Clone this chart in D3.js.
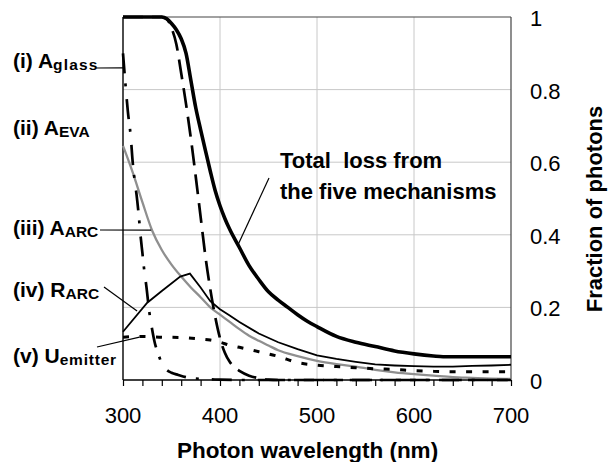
<!DOCTYPE html>
<html>
<head>
<meta charset="utf-8">
<script src="https://cdn.jsdelivr.net/npm/d3@7"></script>
<style>
  body { margin: 0; background: #fff; }
  text { font-family: "Liberation Sans", Arial, sans-serif; }
</style>
</head>
<body>
<svg width="611" height="462"></svg>
<script>
const totalLoss = [[300,1],[340,1],[345,0.995],[350,0.982],[355,0.965],[360,0.94],[365,0.9],[370,0.825],[375,0.75],[380,0.69],[385,0.632],[390,0.575],[395,0.522],[400,0.48],[405,0.445],[410,0.415],[420,0.365],[430,0.315],[440,0.277],[450,0.243],[460,0.22],[470,0.2],[480,0.18],[490,0.162],[500,0.147],[520,0.12],[540,0.104],[560,0.092],[580,0.08],[600,0.072],[620,0.066],[630,0.064],[700,0.064]]
const aGlass = [[300,0.9],[303,0.8],[305,0.74],[308,0.67],[310,0.6],[312,0.55],[314,0.51],[316,0.46],[318,0.4],[320,0.35],[322,0.3],[324,0.26],[327,0.19],[330,0.14],[333,0.1],[336,0.075],[340,0.045],[345,0.028],[350,0.02],[357,0.014],[365,0.008],[380,0.003],[400,0.001],[420,0],[700,0]]
const aEVA = [[300,1],[340,1],[345,0.995],[350,0.97],[355,0.925],[360,0.845],[365,0.76],[370,0.665],[375,0.56],[380,0.45],[385,0.34],[390,0.25],[395,0.175],[400,0.115],[405,0.075],[410,0.05],[415,0.035],[420,0.025],[430,0.012],[440,0.005],[450,0.001],[460,0],[700,0]]
const aARC = [[300,0.645],[310,0.572],[320,0.49],[330,0.412],[340,0.358],[350,0.318],[360,0.285],[370,0.255],[380,0.228],[390,0.2],[400,0.18],[410,0.16],[420,0.14],[430,0.122],[440,0.108],[450,0.095],[460,0.082],[480,0.066],[500,0.053],[520,0.044],[540,0.037],[560,0.028],[580,0.021],[600,0.016],[620,0.012],[640,0.008],[660,0.006],[680,0.004],[700,0.003]]
const rARC = [[300,0.133],[325,0.213],[340,0.245],[359,0.285],[369,0.293],[380,0.255],[390,0.217],[400,0.195],[410,0.178],[420,0.16],[440,0.128],[460,0.104],[480,0.085],[500,0.068],[520,0.058],[540,0.05],[560,0.043],[580,0.04],[600,0.038],[620,0.037],[640,0.037],[660,0.039],[680,0.04],[700,0.042]]
const uEmitter = [[300,0.118],[320,0.12],[340,0.118],[360,0.117],[380,0.113],[390,0.11],[400,0.104],[410,0.096],[420,0.09],[440,0.078],[460,0.065],[480,0.048],[500,0.041],[520,0.037],[540,0.034],[560,0.031],[580,0.029],[600,0.026],[620,0.024],[640,0.023],[700,0.023]]

const xTicks = [300, 400, 500, 600, 700]
const yTicks = [0, 0.2, 0.4, 0.6, 0.8, 1]

const plotL = 123, plotR = 511, plotT = 17, plotB = 380

const svg = d3.select('svg')

const x = d3.scaleLinear().domain([300, 700]).range([plotL, plotR])
const y = d3.scaleLinear().domain([0, 1]).range([plotB, plotT])

// grid
svg.append('g').selectAll('line')
    .data(xTicks.slice(1, -1))
    .enter().append('line')
    .attr('x1', d => x(d)).attr('x2', d => x(d))
    .attr('y1', plotT).attr('y2', plotB)
    .attr('stroke', '#c8c8c8').attr('stroke-width', 1)
svg.append('g').selectAll('line')
    .data(yTicks.slice(1, -1))
    .enter().append('line')
    .attr('x1', plotL).attr('x2', plotR)
    .attr('y1', d => y(d)).attr('y2', d => y(d))
    .attr('stroke', '#c8c8c8').attr('stroke-width', 1)

// frame
svg.append('line').attr('x1', plotL).attr('x2', plotR).attr('y1', plotT).attr('y2', plotT)
    .attr('stroke', '#444').attr('stroke-width', 1.2)
svg.append('line').attr('x1', plotR).attr('x2', plotR).attr('y1', plotT).attr('y2', plotB)
    .attr('stroke', '#444').attr('stroke-width', 1.2)

// bottom axis
const xAxis = d3.axisBottom(x)
    .ticks(20)
    .tickSize(6)
    .tickFormat('')
svg.append('g')
    .attr('transform', `translate(0,${plotB})`)
    .call(xAxis)
    .call(g => g.select('.domain').attr('stroke-width', 1.5).attr('d', `M${plotL},0H${plotR}`))
    .call(g => g.selectAll('.tick line').attr('stroke-width', 1.2))

svg.append('line').attr('x1', plotL).attr('x2', plotL).attr('y1', plotT).attr('y2', plotB)
    .attr('stroke', '#000').attr('stroke-width', 1.4)

svg.append('g').selectAll('text')
    .data(xTicks)
    .enter().append('text')
    .attr('x', d => x(d))
    .attr('y', 422.5)
    .attr('text-anchor', 'middle')
    .attr('font-size', 22)
    .text(d => d)

svg.append('g').selectAll('text')
    .data(yTicks)
    .enter().append('text')
    .attr('x', 530)
    .attr('y', d => y(d) + 9)
    .attr('font-size', 22)
    .text(d => d)

svg.append('text')
    .attr('x', 307.5).attr('y', 457.5)
    .attr('text-anchor', 'middle')
    .attr('font-size', 22.5).attr('font-weight', 'bold')
    .text('Photon wavelength (nm)')

svg.append('text')
    .attr('transform', 'translate(602,209) rotate(-90)')
    .attr('text-anchor', 'middle')
    .attr('font-size', 22).attr('font-weight', 'bold')
    .text('Fraction of photons')

// curves
const smooth = d3.line().x(d => x(d[0])).y(d => y(d[1])).curve(d3.curveMonotoneX)
const straight = d3.line().x(d => x(d[0])).y(d => y(d[1]))

const series = [
    { data: aARC, line: smooth, color: '#8f8f8f', w: 2.3, dash: null },
    { data: uEmitter, line: smooth, color: '#000', w: 3, dash: '6,10.5' },
    { data: rARC, line: straight, color: '#000', w: 1.8, dash: null },
    { data: aGlass, line: smooth, color: '#000', w: 2.7, dash: '20,10,3,13' },
    { data: aEVA, line: smooth, color: '#000', w: 2.7, dash: '20,9' },
    { data: totalLoss, line: smooth, color: '#000', w: 3.6, dash: null }
]

svg.append('g').selectAll('path')
    .data(series)
    .enter().append('path')
    .attr('d', d => d.line(d.data))
    .attr('fill', 'none')
    .attr('stroke', d => d.color)
    .attr('stroke-width', d => d.w)
    .attr('stroke-dasharray', d => d.dash)

// labels with leaders
const labels = [
    { main: '(i) A', sub: 'glass', ls: 1.2, bx: 13, by: 68, lx: 96, ly: 68, px: 300, py: 0.86 },
    { main: '(ii) A', sub: 'EVA', ls: 0, bx: 13, by: 135, lx: null },
    { main: '(iii) A', sub: 'ARC', ls: 0, bx: 13, by: 235, lx: 100, ly: 230, px: 329, py: 0.413 },
    { main: '(iv) R', sub: 'ARC', ls: 0, bx: 13, by: 297, lx: 104, ly: 287, px: 314.5, py: 0.19 },
    { main: '(v) U', sub: 'emitter', ls: 0.8, bx: 13, by: 363, lx: 97, ly: 347, px: 317, py: 0.118 }
]

labels.forEach(l => {
    const t = svg.append('text')
        .attr('x', l.bx).attr('y', l.by)
        .attr('font-size', 21).attr('font-weight', 'bold')
    t.append('tspan').text(l.main)
    t.append('tspan').attr('dy', 2).attr('font-size', 15.5)
        .attr('letter-spacing', l.ls).text(l.sub)
    if (l.lx != null) {
        svg.append('line')
            .attr('x1', l.lx).attr('y1', l.ly)
            .attr('x2', x(l.px)).attr('y2', y(l.py))
            .attr('stroke', '#000').attr('stroke-width', 1.2)
    }
})

svg.append('line')
    .attr('x1', 269).attr('y1', 178)
    .attr('x2', x(418.5)).attr('y2', y(0.372))
    .attr('stroke', '#000').attr('stroke-width', 1.2)

const note = svg.append('text')
    .attr('font-size', 22).attr('font-weight', 'bold')
    .style('white-space', 'pre')
note.append('tspan').attr('x', 280).attr('y', 168).text('Total  loss from')
note.append('tspan').attr('x', 280).attr('y', 199).text('the five mechanisms')
</script>
</body>
</html>
